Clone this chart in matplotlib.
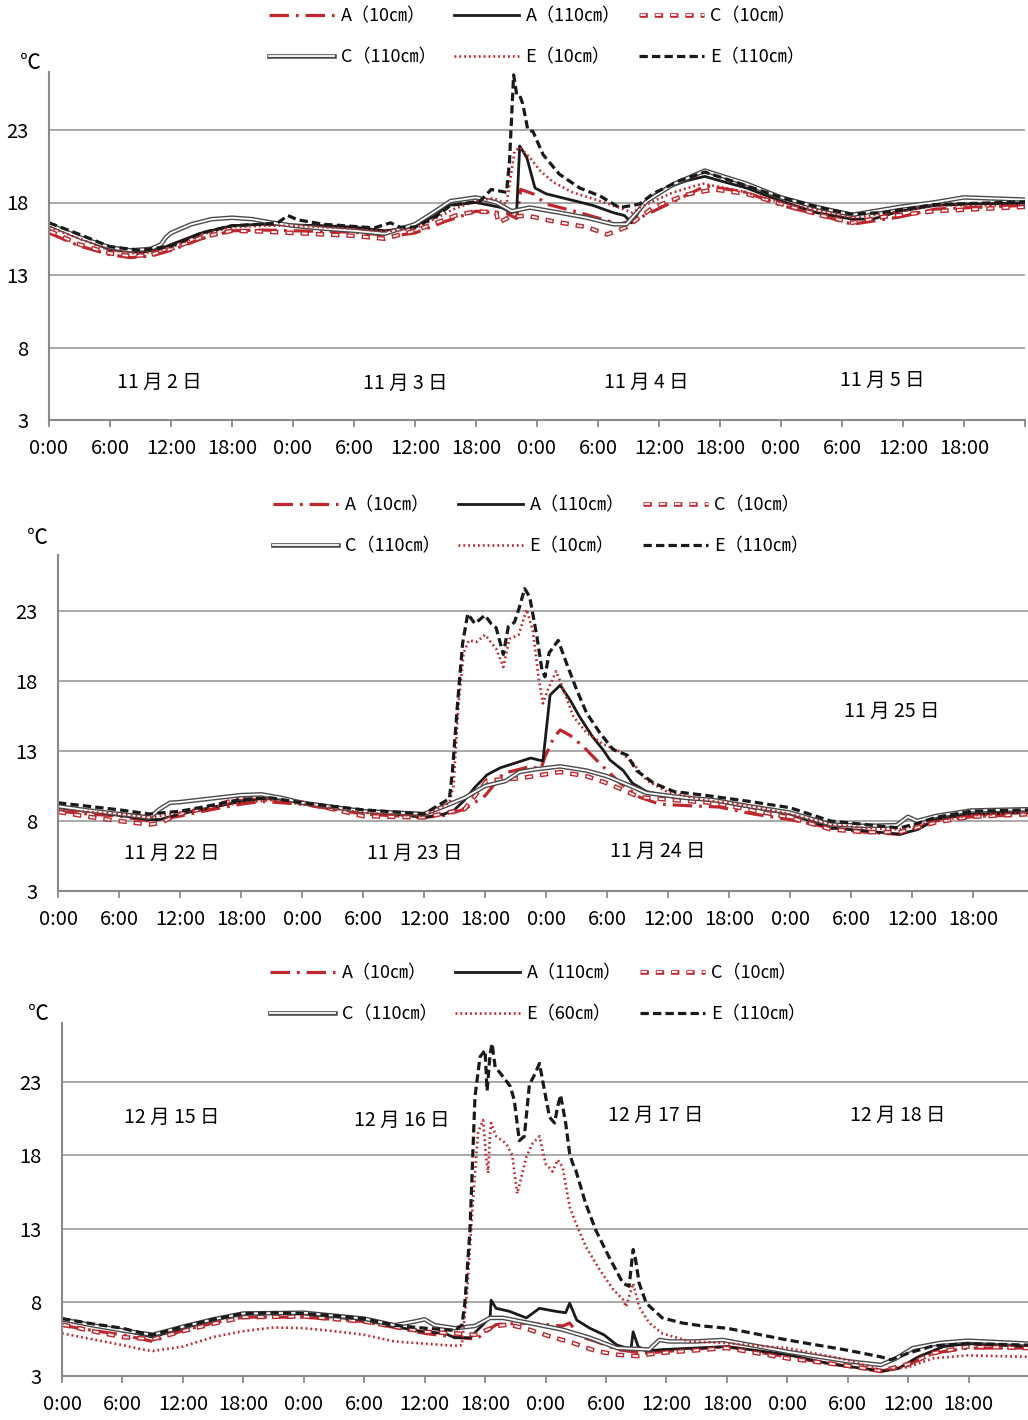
import matplotlib
matplotlib.use("Agg")
import matplotlib.pyplot as plt
from matplotlib.legend_handler import HandlerTuple

plt.rcParams['font.family'] = ['Noto Sans CJK JP', 'DejaVu Sans']
plt.rcParams['lines.scale_dashes'] = False

# --- Panel 1: 11/2 - 11/5 (hours from 11/2 0:00) ---
P1_A10_T = [0, 3, 6, 8, 10, 12, 15, 18, 21, 24, 27, 30, 34, 36, 39, 42, 45, 46, 46.4, 47.6, 48.9, 52.2, 56.1, 57.8, 60.2, 64.6, 68.6, 72, 76, 79, 83.7, 87.2, 96]
P1_A10_V = [15.9, 15.0, 14.4, 14.2, 14.3, 14.7, 15.5, 16.05, 16.1, 16.05, 16.0, 15.95, 15.7, 15.9, 16.7, 17.4, 17.25, 16.9, 18.9, 18.6, 17.9, 17.3, 16.5, 16.85, 17.65, 19.15, 18.7, 17.8, 17.1, 16.5, 17.0, 17.55, 17.8]
P1_A110_T = [0, 3, 6, 9, 11, 12, 15, 18, 21, 24, 27, 30, 33, 35, 36, 38, 39.2, 42, 44.5, 45.5, 46.0, 46.3, 47.0, 47.8, 48.9, 51.2, 53.5, 55.5, 56.6, 57.3, 58.8, 60.7, 62.7, 64.5, 66, 68.6, 72, 75.5, 79, 81, 83.7, 87.2, 90.6, 96]
P1_A110_V = [16.45, 15.6, 14.75, 14.55, 14.8, 15.1, 15.9, 16.4, 16.5, 16.45, 16.4, 16.3, 16.05, 16.2, 16.4, 17.1, 17.8, 18.0, 17.65, 17.3, 17.4, 21.9, 21.1, 19.0, 18.6, 18.2, 17.8, 17.3, 17.1, 16.6, 18.2, 19.0, 19.5, 19.8, 19.5, 19.0, 18.1, 17.3, 16.85, 16.85, 17.4, 17.8, 17.9, 17.95]
P1_C10_T = [0, 3, 6, 8, 10, 12, 15, 18, 21, 24, 27, 30, 33, 36, 40, 42, 44, 44.2, 45.3, 47.0, 49.6, 52.9, 54.9, 56.8, 59.4, 62.7, 65.4, 68.6, 72, 76, 79, 82, 87, 96]
P1_C10_V = [16.05, 15.1, 14.5, 14.3, 14.4, 14.8, 15.6, 16.05, 16.0, 15.9, 15.8, 15.7, 15.5, 16.05, 17.1, 17.4, 17.3, 16.6, 17.0, 17.1, 16.7, 16.3, 15.8, 16.3, 17.65, 18.55, 18.9, 18.6, 17.9, 17.1, 16.6, 17.0, 17.4, 17.7]
P1_C110_T = [0, 3, 6, 8, 10, 11, 11.5, 12, 14, 16, 18, 20, 22, 24, 27, 30, 33, 36, 38, 39.5, 42, 44, 45.5, 47.3, 50.2, 52.9, 55.5, 56.8, 58.8, 61.4, 64.5, 68.6, 72, 76, 79, 83.7, 87, 90, 96]
P1_C110_V = [16.5, 15.6, 14.9, 14.7, 14.8, 15.1, 15.6, 15.9, 16.5, 16.85, 16.95, 16.85, 16.6, 16.4, 16.2, 16.05, 15.85, 16.5, 17.4, 18.1, 18.35, 18.0, 17.4, 17.65, 17.3, 16.95, 16.5, 16.5, 18.1, 19.25, 20.2, 19.3, 18.35, 17.6, 17.15, 17.7, 18.0, 18.35, 18.2]
P1_E10_T = [0, 3, 6, 9, 12, 15, 18, 21, 24, 27, 30, 33, 36, 38, 40, 42, 43.7, 45.0, 45.8, 46.3, 47.3, 48.3, 49.6, 51.5, 54.2, 56.1, 57.4, 58.1, 61.4, 64.3, 68, 72, 76, 79, 82, 87, 96]
P1_E10_V = [16.3, 15.5, 14.7, 14.45, 14.9, 15.8, 16.3, 16.4, 16.4, 16.3, 16.2, 16.0, 16.2, 16.9, 17.6, 18.1, 18.3, 17.9, 21.55, 21.8, 21.1, 20.2, 19.4, 18.7, 18.1, 17.65, 17.3, 17.65, 18.7, 19.3, 18.8, 18.0, 17.4, 16.95, 17.2, 17.8, 17.8]
P1_E110_T = [0, 3, 6, 9, 12, 15, 18, 21, 22.5, 23.5, 24.5, 27, 30, 32, 33.6, 34.5, 36, 38, 39.5, 42.4, 43.5, 45.0, 45.3, 45.7, 46.0, 46.3, 46.6, 47.1, 47.6, 48.6, 50.2, 52.2, 54.2, 56.1, 57.4, 58.1, 59.4, 62, 64.5, 68, 72, 75.5, 78.9, 82, 87, 96]
P1_E110_V = [16.6, 15.8, 14.95, 14.7, 15.0, 15.9, 16.4, 16.5, 16.6, 17.1, 16.8, 16.5, 16.35, 16.25, 16.6, 16.3, 16.3, 17.0, 17.8, 18.1, 18.9, 18.7, 20.9, 26.8, 25.45, 25.4, 24.8, 23.0, 22.9, 21.3, 19.95, 19.0, 18.45, 17.65, 17.8, 17.9, 18.6, 19.5, 20.1, 19.3, 18.35, 17.7, 17.2, 17.3, 17.85, 18.05]

# --- Panel 2: 11/22 - 11/25 ---
P2_A10_T = [0, 3, 6, 9, 12, 15, 18, 20, 24, 27, 30, 36, 38, 40, 42, 43.8, 46.5, 47.5, 47.9, 48.8, 49.4, 50.4, 51.7, 53.3, 54.3, 55.3, 57.2, 59.2, 61.8, 65, 68.4, 72, 76, 79.4, 82.8, 86.3, 89.8, 96]
P2_A10_V = [8.7, 8.5, 8.35, 8.0, 8.35, 8.8, 9.2, 9.4, 9.2, 8.85, 8.5, 8.25, 8.4, 8.85, 9.8, 11.4, 11.9, 11.7, 12.6, 14.0, 14.5, 14.1, 13.3, 12.1, 11.4, 10.7, 9.7, 9.2, 9.1, 9.0, 8.5, 8.1, 7.5, 7.2, 7.05, 8.0, 8.3, 8.5]
P2_A110_T = [0, 3, 6, 9, 10, 12, 15, 18, 20, 22, 24, 27, 30, 33, 36, 38, 39, 40, 41, 42.2, 43.5, 44.8, 46.5, 47.3, 47.7, 48.4, 49.4, 50.4, 51.3, 52.6, 53.6, 54.3, 55.6, 56.5, 57.9, 60.5, 64.4, 68.4, 72, 76, 79.4, 82.8, 84.6, 86.3, 89.8, 96]
P2_A110_V = [8.95, 8.7, 8.4, 8.1, 8.1, 8.5, 8.95, 9.4, 9.6, 9.55, 9.3, 9.0, 8.7, 8.5, 8.25, 8.5, 8.8, 9.5, 10.4, 11.3, 11.8, 12.1, 12.5, 12.35, 12.3, 17.0, 17.7, 16.6, 15.45, 14.0, 13.1, 12.35, 11.6, 10.7, 10.1, 9.7, 9.5, 8.95, 8.5, 7.5, 7.3, 7.05, 7.4, 8.1, 8.5, 8.6]
P2_C10_T = [0, 3, 6, 9, 10, 12, 15, 18, 20, 24, 27, 30, 36, 40, 42.2, 45.4, 49.4, 52, 54, 55.3, 57.2, 60.5, 64.4, 68, 72, 76, 79.4, 82.8, 86.3, 89.8, 96]
P2_C10_V = [8.65, 8.3, 8.0, 7.75, 7.85, 8.5, 9.0, 9.65, 9.75, 9.3, 8.85, 8.35, 8.25, 8.85, 10.9, 11.05, 11.5, 11.2, 10.7, 10.3, 9.7, 9.5, 9.3, 8.8, 8.25, 7.4, 7.2, 7.2, 7.9, 8.3, 8.5]
P2_C110_T = [0, 3, 6, 9, 10, 11, 12, 15, 18, 20, 22, 24, 30, 36, 38, 40, 42, 44, 45.4, 47, 49.4, 52, 54, 56, 57.9, 61.8, 64.4, 68, 72, 76, 79.4, 82.5, 83.6, 84.5, 86.3, 89.8, 96]
P2_C110_V = [9.05, 8.75, 8.5, 8.25, 8.85, 9.3, 9.35, 9.6, 9.85, 9.9, 9.65, 9.3, 8.7, 8.5, 9.05, 9.65, 10.5, 10.85, 11.5, 11.7, 11.9, 11.6, 11.2, 10.6, 10.0, 9.65, 9.5, 9.05, 8.6, 7.75, 7.65, 7.7, 8.3, 8.0, 8.35, 8.75, 8.85]
P2_E10_T = [0, 3, 6, 9, 12, 15, 18, 21, 24, 27, 30, 33, 36, 38.5, 38.9, 39.4, 39.9, 40.4, 41.2, 42.0, 43.1, 43.8, 44.4, 45.3, 46.1, 46.7, 47.3, 47.7, 48.2, 49.0, 49.7, 50.7, 52.0, 53.6, 55.3, 56.6, 57.9, 59.9, 63.5, 68, 72, 76, 79.4, 82.8, 86.3, 89.8, 96]
P2_E10_V = [8.8, 8.65, 8.5, 8.25, 8.6, 8.95, 9.3, 9.5, 9.2, 8.9, 8.6, 8.45, 8.35, 9.3, 10.5, 16.4, 20.0, 20.9, 20.8, 21.3, 20.3, 19.0, 21.0, 21.3, 23.1, 21.6, 18.1, 16.4, 17.4, 18.7, 17.4, 15.45, 14.3, 13.5, 12.95, 12.1, 10.9, 10.1, 9.5, 9.1, 8.5, 7.75, 7.5, 7.4, 8.0, 8.4, 8.6]
P2_E110_T = [0, 3, 6, 9, 12, 15, 18, 21, 24, 27, 30, 33, 36, 38.5, 38.8, 39.3, 39.8, 40.3, 41.0, 42.0, 42.6, 43.1, 43.8, 44.3, 44.9, 45.4, 45.9, 46.4, 47.1, 47.6, 47.9, 48.3, 48.8, 49.2, 50.0, 51.0, 52.0, 53.3, 54.6, 56.0, 56.9, 58.6, 60.6, 63.5, 68, 72, 76, 79.4, 82.8, 84.6, 86.3, 89.8, 96]
P2_E110_V = [9.3, 9.05, 8.8, 8.5, 8.7, 9.1, 9.55, 9.65, 9.3, 9.05, 8.8, 8.65, 8.5, 9.6, 11.6, 16.4, 20.7, 22.8, 22.1, 22.7, 22.1, 21.8, 19.9, 21.9, 22.2, 23.3, 24.6, 24.0, 21.2, 18.8, 18.3, 20.0, 20.5, 20.9, 19.3, 17.4, 15.7, 14.3, 13.1, 12.7, 11.6, 10.7, 10.1, 9.85, 9.4, 8.95, 8.0, 7.75, 7.5, 7.85, 8.25, 8.7, 8.8]

# --- Panel 3: 12/15 - 12/18 ---
P3_A10_T = [0, 3, 6, 9, 12, 15, 18, 24, 30, 36, 39, 41.1, 42.1, 43.1, 46.1, 49.7, 50.4, 51.4, 53.0, 55.1, 57.7, 59.6, 66, 72, 78, 81.3, 84, 86.5, 89.9, 96]
P3_A10_V = [6.45, 6.1, 5.8, 5.35, 6.1, 6.6, 7.0, 7.0, 6.7, 5.9, 5.65, 5.5, 6.0, 6.5, 6.6, 6.4, 6.6, 5.7, 5.35, 4.8, 4.55, 4.65, 5.0, 4.3, 3.65, 3.3, 3.75, 4.55, 4.9, 4.9]
P3_A110_T = [0, 3, 6, 8, 9, 12, 15, 16, 18, 21, 24, 27, 30, 33, 36, 38, 39, 40.5, 41.8, 42.5, 42.6, 43.1, 44.4, 46.1, 47.4, 49.0, 50.0, 50.4, 51.1, 52.4, 53.8, 55.1, 56.1, 56.5, 56.7, 57.2, 58.0, 59.7, 66, 72, 76.1, 79.6, 81.6, 83, 85, 87.5, 89.9, 96]
P3_A110_V = [6.8, 6.45, 6.1, 5.8, 5.65, 6.25, 6.8, 7.0, 7.2, 7.3, 7.2, 7.0, 6.8, 6.35, 6.0, 5.9, 5.6, 5.6, 6.5, 7.0, 8.15, 7.6, 7.4, 6.95, 7.6, 7.4, 7.3, 7.95, 6.8, 6.25, 5.8, 5.1, 4.9, 4.9, 6.0, 5.0, 4.7, 4.8, 5.0, 4.45, 3.85, 3.5, 3.35, 3.5, 4.3, 5.0, 5.2, 5.0]
P3_C10_T = [0, 3, 6, 9, 12, 15, 18, 24, 30, 36, 39, 41, 43.1, 44.4, 46.4, 48.4, 50.7, 53.0, 55.1, 57.1, 59.1, 66, 72, 78, 81.3, 84, 86.5, 89.9, 96]
P3_C10_V = [6.5, 6.05, 5.65, 5.5, 6.05, 6.55, 7.0, 7.05, 6.7, 6.0, 5.9, 5.8, 6.4, 6.5, 6.15, 5.7, 5.25, 4.7, 4.45, 4.35, 4.55, 4.9, 4.2, 3.7, 3.35, 3.8, 4.55, 5.0, 4.9]
P3_C110_T = [0, 3, 6, 9, 12, 15, 18, 24, 30, 33, 35, 36, 37, 39, 41, 42.5, 43.8, 46.4, 49.7, 52.4, 55.1, 58.3, 59.3, 60.3, 62.9, 65.6, 72, 78, 81.3, 82.8, 84.5, 87.2, 89.9, 96]
P3_C110_V = [6.85, 6.45, 6.1, 5.8, 6.35, 6.85, 7.25, 7.3, 6.9, 6.45, 6.7, 6.85, 6.45, 6.25, 6.4, 6.95, 6.95, 6.6, 6.15, 5.6, 4.9, 4.8, 5.45, 5.35, 5.35, 5.45, 4.65, 4.0, 3.75, 4.2, 4.9, 5.25, 5.4, 5.2]
P3_E60_T = [0, 3, 6, 8, 9, 12, 15, 18, 21, 24, 27, 30, 33, 36, 39, 39.7, 40.2, 40.8, 41.3, 41.5, 41.8, 42.1, 42.3, 42.5, 42.6, 43.1, 44.1, 44.7, 45.2, 46.1, 46.7, 47.4, 48.0, 48.7, 49.2, 49.7, 50.4, 51.0, 52.0, 53.4, 54.7, 55.7, 56.0, 56.7, 57.3, 58.3, 59.6, 62.3, 65.6, 72, 78, 81.3, 84, 86.5, 89.9, 96]
P3_E60_V = [5.9, 5.5, 5.1, 4.8, 4.7, 5.0, 5.65, 6.05, 6.3, 6.25, 6.05, 5.8, 5.35, 5.2, 5.05, 5.1, 8.6, 14.9, 19.5, 19.9, 20.4, 17.9, 16.8, 19.5, 20.2, 19.3, 18.8, 18.0, 15.4, 17.9, 18.8, 19.3, 17.45, 16.9, 17.7, 17.2, 14.5, 13.4, 11.8, 10.2, 8.9, 8.2, 7.7, 9.3, 7.7, 6.6, 5.9, 5.35, 5.25, 4.9, 4.1, 3.4, 3.6, 4.2, 4.4, 4.3]
P3_E110_T = [0, 3, 6, 8, 9, 12, 15, 18, 21, 24, 27, 30, 33, 36, 39, 39.7, 40.0, 40.5, 41.0, 41.5, 42.0, 42.2, 42.5, 42.7, 43.0, 43.5, 44.5, 44.9, 45.4, 45.9, 46.4, 47.0, 47.4, 47.9, 48.4, 48.9, 49.2, 49.5, 50.0, 50.4, 50.7, 51.0, 52.0, 53.0, 54.3, 55.7, 56.3, 56.7, 56.9, 57.3, 58.0, 59.6, 61.6, 63.6, 66, 72, 78, 81.3, 82.3, 84, 86.5, 89.9, 96]
P3_E110_V = [6.9, 6.55, 6.25, 5.9, 5.8, 6.35, 6.85, 7.25, 7.3, 7.25, 7.1, 6.9, 6.45, 6.25, 6.1, 6.45, 8.0, 12.9, 22.0, 24.7, 25.15, 22.4, 24.9, 25.6, 24.0, 23.6, 22.7, 21.75, 19.0, 19.3, 22.8, 23.6, 24.25, 22.4, 20.6, 20.2, 21.3, 22.1, 20.2, 18.1, 17.45, 17.0, 14.7, 12.9, 11.1, 9.3, 9.1, 11.6, 11.1, 9.3, 7.95, 6.95, 6.6, 6.4, 6.25, 5.45, 4.75, 4.3, 4.1, 4.55, 5.05, 5.2, 5.1]

LABELS_1 = ["A（10㎝）", "A（110㎝）", "C（10㎝）", "C（110㎝）", "E（10㎝）", "E（110㎝）"]
LABELS_3 = ["A（10㎝）", "A（110㎝）", "C（10㎝）", "C（110㎝）", "E（60㎝）", "E（110㎝）"]
DATES_1 = ["11 月 2 日", "11 月 3 日", "11 月 4 日", "11 月 5 日"]
DATES_2 = ["11 月 22 日", "11 月 23 日", "11 月 24 日", "11 月 25 日"]
DATES_3 = ["12 月 15 日", "12 月 16 日", "12 月 17 日", "12 月 18 日"]
HOUR_LABELS = ["0:00", "6:00", "12:00", "18:00"]
YTICKS = [3, 8, 13, 18, 23]

RED = "#c0272d"
BLACK = "#1a1a1a"
GRID = "#a3a3a3"


def draw_panel(ax, series, labels, dates, date_pos, legend_xy):
    (a10, a110, c10, c110, e10, e110) = series
    h = {}
    h['a10'], = ax.plot(*a10, color=RED, lw=2.3, ls=(0, (14, 5, 2, 5)))
    h['a110'], = ax.plot(*a110, color=BLACK, lw=2.0)
    o, = ax.plot(*c10, color=RED, lw=3.3, ls=(0, (6, 5)))
    i, = ax.plot(*c10, color="white", lw=1.3, ls=(10, (4, 7)))
    h['c10'] = (o, i)
    o, = ax.plot(*c110, color="#4a4a4a", lw=3.3)
    i, = ax.plot(*c110, color="white", lw=1.3)
    h['c110'] = (o, i)
    h['e10'], = ax.plot(*e10, color=RED, lw=1.9, ls=(0, (1.3, 2.2)))
    h['e110'], = ax.plot(*e110, color=BLACK, lw=2.3, ls=(0, (6, 3)))

    ax.set_xlim(0, 96)
    ax.set_ylim(3, 27)
    ax.set_yticks(YTICKS)
    ax.set_xticks(range(0, 97, 6))
    ax.set_xticklabels([HOUR_LABELS[k % 4] for k in range(16)] + [""])
    ax.yaxis.grid(True, color=GRID, lw=1.3)
    ax.set_axisbelow(True)
    for s in ("top", "right"):
        ax.spines[s].set_visible(False)
    for s in ("left", "bottom"):
        ax.spines[s].set_color("#8a8a8a")
        ax.spines[s].set_linewidth(1.5)
    ax.tick_params(axis="x", direction="out", length=5, width=1.3, color="#8a8a8a",
                   labelsize=14.5, pad=8)
    ax.tick_params(axis="y", length=0, labelsize=14.5, pad=15)

    for txt, (x, y) in zip(dates, date_pos):
        ax.text(x, y, txt, fontsize=14, ha="center", va="center")

    order = ['a10', 'c110', 'a110', 'e10', 'c10', 'e110']
    idx = [0, 3, 1, 4, 2, 5]
    leg = ax.figure.legend([h[k] for k in order], [labels[j] for j in idx],
                           loc="center", bbox_to_anchor=legend_xy, ncol=3,
                           frameon=False, fontsize=13, handlelength=3.6,
                           handletextpad=0.35, columnspacing=1.0, labelspacing=1.25,
                           handler_map={tuple: HandlerTuple(ndivide=1)})
    return leg


W, H = 1028, 1420
fig = plt.figure(figsize=(W / 100, H / 100), dpi=100)

ax1 = fig.add_axes([49 / W, 1 - 420 / H, 976 / W, 348 / H])
ax2 = fig.add_axes([58 / W, 1 - 891 / H, 976 / W, 336 / H])
ax3 = fig.add_axes([62 / W, 1 - 1376 / H, 967 / W, 353 / H])

draw_panel(ax1,
           [(P1_A10_T, P1_A10_V), (P1_A110_T, P1_A110_V), (P1_C10_T, P1_C10_V),
            (P1_C110_T, P1_C110_V), (P1_E10_T, P1_E10_V), (P1_E110_T, P1_E110_V)],
           LABELS_1, DATES_1, [(10.9, 5.6), (35, 5.5), (58.8, 5.6), (82, 5.75)],
           (537 / W, 1 - 37 / H))
draw_panel(ax2,
           [(P2_A10_T, P2_A10_V), (P2_A110_T, P2_A110_V), (P2_C10_T, P2_C10_V),
            (P2_C110_T, P2_C110_V), (P2_E10_T, P2_E10_V), (P2_E110_T, P2_E110_V)],
           LABELS_1, DATES_2, [(11.2, 5.7), (35.1, 5.7), (59, 5.8), (82, 15.8)],
           (541 / W, 1 - 526 / H))
draw_panel(ax3,
           [(P3_A10_T, P3_A10_V), (P3_A110_T, P3_A110_V), (P3_C10_T, P3_C10_V),
            (P3_C110_T, P3_C110_V), (P3_E60_T, P3_E60_V), (P3_E110_T, P3_E110_V)],
           LABELS_3, DATES_3, [(10.9, 20.6), (33.7, 20.4), (58.9, 20.7), (83, 20.7)],
           (538 / W, 1 - 994 / H))

for (x, y) in [(30, 63), (37, 538), (38, 1014)]:
    fig.text(x / W, 1 - y / H, "℃", fontsize=15, ha="center", va="center")

fig.savefig("out.png", dpi=100)
